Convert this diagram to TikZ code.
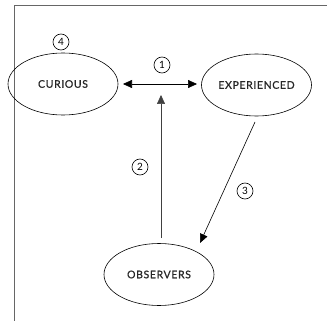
\documentclass[tikz,border=0pt]{standalone}
\usepackage{fontspec}
\setmainfont{Lato}
\usetikzlibrary{arrows.meta,shapes.geometric}
\begin{document}
\begin{tikzpicture}[x=1pt,y=-1pt,
  state/.style={draw, ellipse, line width=0.6pt, minimum width=110pt, minimum height=62pt, inner sep=0pt,
    font=\fontsize{10.5}{12}\selectfont\addfontfeatures{LetterSpace=6,FakeBold=0.7}, text=black!85},
  num/.style={draw, circle, line width=0.6pt, minimum size=16pt, inner sep=0pt,
    font=\fontsize{10}{11}\selectfont},
  link/.style={line width=0.6pt, -{Triangle[length=9pt,width=8pt]}},
  frameline/.style={draw=black!60, line width=1pt}]
\useasboundingbox (0,0) rectangle (327,321);
\fill[white] (0,0) rectangle (327,321);
% open frame: left and top edges
\coordinate (fb) at (14,321);
\coordinate (fc) at (14,6);
\coordinate (fr) at (327,6);
\draw[frameline] (fb) -- (fc) -- (fr);
% states
\node[state] (cur) at (63,84) {CURIOUS};
\node[state] (exp) at (256.5,85) {EXPERIENCED};
\node[state] (obs) at (159,274.5) {OBSERVERS};
% connectors
\coordinate (al) at (123,84);
\coordinate (ar) at (197,84);
\draw[link, {Triangle[length=9pt,width=8pt]}-{Triangle[length=9pt,width=8pt]}] (al) -- (ar);
\coordinate (vb) at (161,238);
\coordinate (vt) at (161,95);
\draw[link, draw=black!75] (vb) -- (vt);
\coordinate (ds) at (255,122);
\coordinate (de) at (200,243);
\draw[link] (ds) -- (de);
% step numbers
\node[num] (n1) at (162,65) {1};
\node[num] (n2) at (140,167) {2};
\node[num] (n3) at (245,191) {3};
\node[num] (n4) at (61,42) {4};
\end{tikzpicture}
\end{document}
